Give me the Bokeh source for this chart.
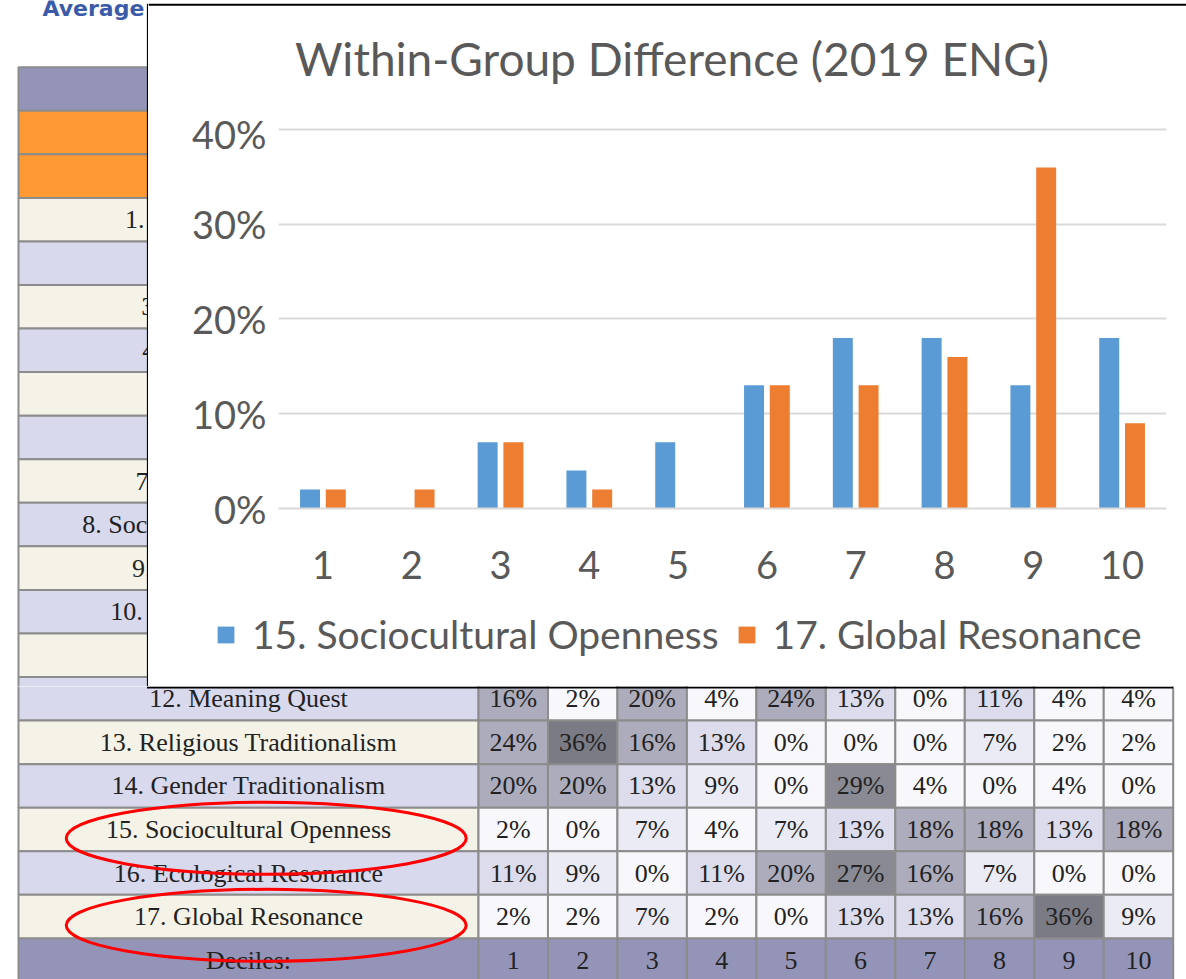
from bokeh.plotting import figure
from bokeh.layouts import column, row
from bokeh.models import (ColumnDataSource, Range1d, FixedTicker, PrintfTickFormatter,
                          Legend, LegendItem)
from bokeh.transform import dodge
from bokeh.core.properties import value
from bokeh.embed import file_html
from bokeh.resources import INLINE

# ---------------- data ----------------
deciles = [1, 2, 3, 4, 5, 6, 7, 8, 9, 10]
socio_openness = [2, 0, 7, 4, 7, 13, 18, 18, 13, 18]      # 15. Sociocultural Openness
global_resonance = [2, 2, 7, 2, 0, 13, 13, 16, 36, 9]     # 17. Global Resonance
series_names = ["15. Sociocultural Openness", "17. Global Resonance"]
series_colors = ["#5b9bd5", "#ed7d31"]
y_ticks = [0, 10, 20, 30, 40]
chart_title = "Within-Group Difference (2019 ENG)"

bevi_scales = [
    "1. Negative Life Events", "2. Needs Closure", "3. Needs Fulfillment",
    "4. Identity Diffusion", "5. Basic Openness", "6. Self Certitude",
    "7. Basic Determinism", "8. Socioemotional Convergence", "9. Physical Resonance",
    "10. Emotional Attunement", "11. Self Awareness", "12. Meaning Quest",
    "13. Religious Traditionalism", "14. Gender Traditionalism",
    "15. Sociocultural Openness", "16. Ecological Resonance", "17. Global Resonance",
]
meaning_quest = [16, 2, 20, 4, 24, 13, 0, 11, 4, 4]
religious_trad = [24, 36, 16, 13, 0, 0, 0, 7, 2, 2]
gender_trad = [20, 20, 13, 9, 0, 29, 4, 0, 4, 0]
ecological_res = [11, 9, 0, 11, 20, 27, 16, 7, 0, 0]
visible_rows = [meaning_quest, religious_trad, gender_trad,
                socio_openness, ecological_res, global_resonance]   # scales 12..17
circled_scales = ["15. Sociocultural Openness", "17. Global Resonance"]
deciles_label = "Deciles:"
heading_text = "Average"

# ---------------- layout helpers (page pixels -> table units) ----------------
LABEL_L, LABEL_R = 18.0, 478.0
COL_W = 69.47
ROW_T0, ROW_H = 66.7, 43.56
def ux(px): return (px - LABEL_R) / COL_W
def ry(py): return (py - ROW_T0) / ROW_H

PURPLE = "#9494b8"
ORANGE = "#ff9933"
CREAM = "#f5f2e7"
LAVENDER = "#d9d9ee"
GRIDC = "#8c8c8c"
SERIF = "Liberation Serif"
TXT = "#222222"
FONT = "Lato"
GREY = "#595959"

def shade(v):
    if v < 5: return "#f8f8fc"
    if v < 10: return "#ebebf5"
    if v < 15: return "#dcdcec"
    if v < 25: return "#acacbc"
    if v < 30: return "#8a8a94"
    return "#7b7b85"

def row_fill(r):
    if r == 0 or r == 20: return PURPLE
    if r in (1, 2): return ORANGE
    k = r - 2
    return CREAM if k % 2 == 1 else LAVENDER

def blank_fig(w, h, xr, yr):
    p = figure(width=w, height=h, x_range=xr, y_range=yr, output_backend="svg",
               toolbar_location=None, min_border=0, x_axis_location=None,
               y_axis_location=None, outline_line_color=None,
               background_fill_color="white", border_fill_color="white")
    p.grid.visible = False
    p.frame_align = False
    return p

def table_fig(w, h, px0, px1, py0, py1):
    return blank_fig(w, h, Range1d(ux(px0), ux(px1)), Range1d(ry(py1), ry(py0)))

def draw_rows(p, rows, with_values):
    lab_l, lab_r = ux(LABEL_L), 0.0
    p.quad(left=[lab_l] * len(rows), right=[lab_r] * len(rows),
           top=[r for r in rows], bottom=[r + 1 for r in rows],
           fill_color=[row_fill(r) for r in rows], line_color=GRIDC, line_width=2)
    tx, ty, tt = [], [], []
    for r in rows:
        if 3 <= r <= 19:
            tx.append((lab_l + lab_r) / 2); ty.append(r + 0.5); tt.append(bevi_scales[r - 3])
        elif r == 20:
            tx.append((lab_l + lab_r) / 2); ty.append(r + 0.5); tt.append(deciles_label)
    p.text(x=tx, y=ty, text=tt, text_align="center", text_baseline="middle",
           text_font=value(SERIF), text_font_size="26px", text_color=TXT)
    if not with_values:
        return
    cl, cr, ct, cb, cf, vx, vy, vt = [], [], [], [], [], [], [], []
    for r in rows:
        for i, d in enumerate(deciles):
            cl.append(d - 1); cr.append(d); ct.append(r); cb.append(r + 1)
            if r == 20:
                cf.append(PURPLE); vt.append(str(d))
            else:
                v = visible_rows[r - 14][i]
                cf.append(shade(v)); vt.append(f"{v}%")
            vx.append(d - 0.5); vy.append(r + 0.5)
    p.quad(left=cl, right=cr, top=ct, bottom=cb, fill_color=cf,
           line_color=GRIDC, line_width=2)
    p.text(x=vx, y=vy, text=vt, text_align="center", text_baseline="middle",
           text_font=value(SERIF), text_font_size="26px", text_color=TXT)

# ---------------- left strip of the background table ----------------
L = table_fig(148, 686, 0, 148, 0, 686)
L.text(x=[ux(42)], y=[ry(8)], text=[heading_text], text_align="left",
       text_baseline="alphabetic", text_font=value("DejaVu Sans"),
       text_font_style="bold", text_font_size="22px", text_color="#3b5ba9")
draw_rows(L, list(range(0, 15)), with_values=False)
L.segment(x0=[ux(147.5)], y0=[ry(3.3)], x1=[ux(147.5)], y1=[ry(700)],
          line_color="black", line_width=2.2)

# ---------------- bottom part of the background table ----------------
B = table_fig(1186, 293, 0, 1186, 686, 979)
draw_rows(B, list(range(14, 21)), with_values=True)
for name in circled_scales:
    r = bevi_scales.index(name) + 3
    B.ellipse(x=[ux(LABEL_L) / 2 + 0.255], y=[r + 0.7], width=400, height=72,
              width_units="screen", height_units="screen",
              fill_color=None, line_color="#ff0000", line_width=3)
B.segment(x0=[ux(146.5)], y0=[ry(687)], x1=[ux(1172.5)], y1=[ry(687)],
          line_color="black", line_width=2)

# ---------------- chart: title strip (page px 148..1186 x 0..110) ----------------
T = blank_fig(1038, 110, Range1d(148, 1186), Range1d(110, 0))
T.segment(x0=[148], y0=[4.3], x1=[1186], y1=[4.3], line_color="black", line_width=2)
T.text(x=[671.5], y=[58], text=[chart_title], text_align="center",
       text_baseline="alphabetic", text_font=value(FONT), text_font_size="46px",
       text_color=GREY)

# ---------------- chart: plot area (page y 110..600) ----------------
C = figure(width=1038, height=490, x_range=Range1d(0.5, 10.5), y_range=Range1d(0, 40.42),
           output_backend="svg", toolbar_location=None,
           min_border_left=130, min_border_right=20, min_border_top=15,
           min_border_bottom=92, outline_line_color=None,
           background_fill_color="white", border_fill_color="white")
C.frame_align = False

src = ColumnDataSource(dict(decile=deciles, s15=socio_openness, s17=global_resonance))
C.vbar(x=dodge("decile", -0.145), top="s15", width=0.225, source=src,
       fill_color=series_colors[0], line_color=None)
C.vbar(x=dodge("decile", 0.145), top="s17", width=0.225, source=src,
       fill_color=series_colors[1], line_color=None)

C.xaxis.ticker = FixedTicker(ticks=deciles)
C.xaxis.axis_line_color = "#d9d9d9"
C.xaxis.axis_line_width = 2
C.xaxis.major_tick_line_color = None
C.xaxis.minor_tick_line_color = None
C.xaxis.major_tick_out = 0
C.xaxis.major_label_standoff = 42
C.yaxis.ticker = FixedTicker(ticks=y_ticks)
C.yaxis.formatter = PrintfTickFormatter(format="%d%%")
C.yaxis.axis_line_color = None
C.yaxis.major_tick_line_color = None
C.yaxis.minor_tick_line_color = None
C.yaxis.major_tick_out = 0
C.yaxis.major_label_standoff = 12
for ax in (C.xaxis, C.yaxis):
    ax.major_label_text_font = FONT
    ax.major_label_text_font_size = "38px"
    ax.major_label_text_color = GREY
C.xgrid.visible = False
C.ygrid.grid_line_color = "#d9d9d9"
C.ygrid.grid_line_width = 2

# ---------------- chart: legend strip (page y 600..686) ----------------
# the same series are drawn here outside the visible range, only to key the legend
G = blank_fig(1038, 86, Range1d(-2, -1), Range1d(0, 1))
g1 = G.vbar(x=dodge("decile", -0.145), top="s15", width=0.225, source=src,
            fill_color=series_colors[0], line_color=None)
g2 = G.vbar(x=dodge("decile", 0.145), top="s17", width=0.225, source=src,
            fill_color=series_colors[1], line_color=None)
legend = Legend(items=[LegendItem(label=series_names[0], renderers=[g1]),
                       LegendItem(label=series_names[1], renderers=[g2])],
                orientation="horizontal", location=(67, 29),
                glyph_width=21, glyph_height=21, label_height=44, label_standoff=16,
                spacing=17, padding=0, margin=0, border_line_color=None,
                background_fill_alpha=0, label_text_font=FONT,
                label_text_baseline="alphabetic",
                label_text_font_size="39px", label_text_color=GREY)
G.add_layout(legend)

page = column(row(L, column(T, C, G, spacing=0), spacing=0), B, spacing=0)
open("out.html", "w").write(file_html(page, INLINE))
